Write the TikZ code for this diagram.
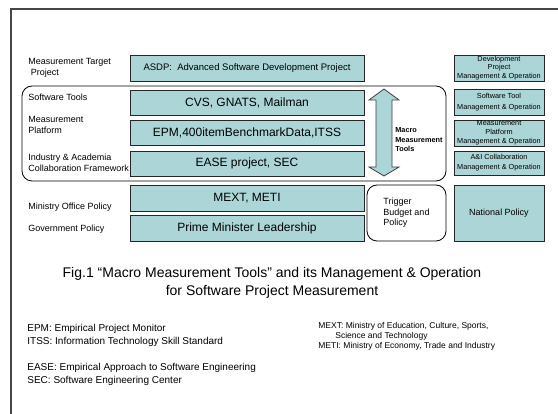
\documentclass[tikz,border=0pt]{standalone}
\usepackage{fontspec}
\setmainfont{Liberation Sans}
\definecolor{boxteal}{RGB}{171,213,215}
\definecolor{framegray}{RGB}{70,70,70}
\newcommand{\fsz}[2]{\fontsize{#1}{#2}\selectfont}

\begin{document}
\begin{tikzpicture}[x=1pt,y=-1pt,thick,text badly centered]

	\useasboundingbox (0,0) rectangle (558,414);
	\draw[framegray,line width=1.6pt] (11,420) -- (11,9) -- (565,9);

	% rounded frames
	\begin{scope}[every node/.style={draw,rounded corners=10pt,line width=0.8pt,inner sep=0pt,outer sep=0pt}]
		\node[minimum width=424pt,minimum height=95pt] (toolgroup) at (22,86) [below right] {};
		\node[minimum width=79pt,minimum height=56pt,align=left,font=\fsz{9}{10.5}] (trigger) at (367,185) [below right] {Trigger\\Budget and\\Policy};
	\end{scope}

	% layer boxes
	\begin{scope}[every node/.style={draw=black!85,fill=boxteal,rectangle,line width=0.8pt,inner sep=0pt,outer sep=0pt,minimum width=234pt,font=\fsz{12}{14}}]
		\node[minimum height=26pt,font=\fsz{9.5}{11}] (asdp) at (130,55) [below right] {ASDP:\ \ Advanced Software Development Project};
		\node[minimum height=25pt] (cvs) at (130,90) [below right] {CVS, GNATS, Mailman};
		\node[minimum height=25pt] (epm) at (130,120) [below right] {EPM,400itemBenchmarkData,ITSS};
		\node[minimum height=25pt] (ease) at (130,151) [below right] {EASE project, SEC};
		\node[minimum height=26pt] (mext) at (130,185) [below right] {MEXT, METI};
		\node[minimum height=26pt] (prime) at (130,215) [below right] {Prime Minister Leadership};
	\end{scope}

	% management & operation boxes
	\begin{scope}[every node/.style={draw=black!85,fill=boxteal,rectangle,line width=0.8pt,inner sep=0pt,outer sep=0pt,minimum width=90pt,align=center,font=\fsz{7.3}{8.8}}]
		\node[minimum height=26pt] (devop) at (454,55) [below right] {Development\\Project\\Management \& Operation};
		\node[minimum height=26pt,font=\fsz{7.3}{10.5}] (toolop) at (454,89) [below right] {Software Tool\\Management \& Operation};
		\node[minimum height=26pt] (platop) at (454,120) [below right] {Measurement\\Platform\\Management \& Operation};
		\node[minimum height=24pt,font=\fsz{7.3}{10}] (aiop) at (454,151) [below right] {A\&I Collaboration\\Management \& Operation};
		\node[minimum height=56pt,font=\fsz{9}{11}] (natpol) at (454,185) [below right] {National Policy};
	\end{scope}

	% up-down arrow
	\filldraw[fill=boxteal,draw=black!75,line width=0.8pt] (384,89) -- (399,100) -- (392,100) -- (392,167) -- (399,167) -- (384,176)
		-- (369,167) -- (376,167) -- (376,100) -- (369,100) -- cycle;
	\node[inner sep=0pt,align=left,font=\fsz{7.3}{9.5}\bfseries] (macro) at (395,140) [right] {Macro\\Measurement\\Tools};

	% layer names
	\begin{scope}[every node/.style={inner sep=0pt,align=left,font=\fsz{9}{11}}]
		\node (targetname) at (28,68) [right] {Measurement Target\\\hspace*{2.5pt}Project};
		\node (toolname) at (28,97) [right] {Software Tools};
		\node (platname) at (28,125) [right] {Measurement\\Platform};
		\node (ainame) at (28,163) [right] {Industry \& Academia\\Collaboration Framework};
		\node (ministryname) at (28,207) [right] {Ministry Office Policy};
		\node (govname) at (28,229) [right] {Government Policy};
	\end{scope}

	\node[inner sep=0pt,align=center,font=\fsz{14}{18}] (caption) at (272,283) {Fig.1 “Macro Measurement Tools” and its Management \& Operation\\for Software Project Measurement};

	% abbreviations
	\begin{scope}[every node/.style={inner sep=0pt,align=left,font=\fsz{10}{13}}]
		\node (abbrepm) at (27,335) [right] {EPM: Empirical Project Monitor\\ITSS: Information Technology Skill Standard};
		\node (abbrease) at (27,374) [right] {EASE: Empirical Approach to Software Engineering\\SEC: Software Engineering Center};
		\node[font=\fsz{8.5}{10}] (abbrmext) at (318,336) [right] {MEXT: Ministry of Education, Culture, Sports,\\\hspace*{17pt}Science and Technology\\METI: Ministry of Economy, Trade and Industry};
	\end{scope}

\end{tikzpicture}
\end{document}
